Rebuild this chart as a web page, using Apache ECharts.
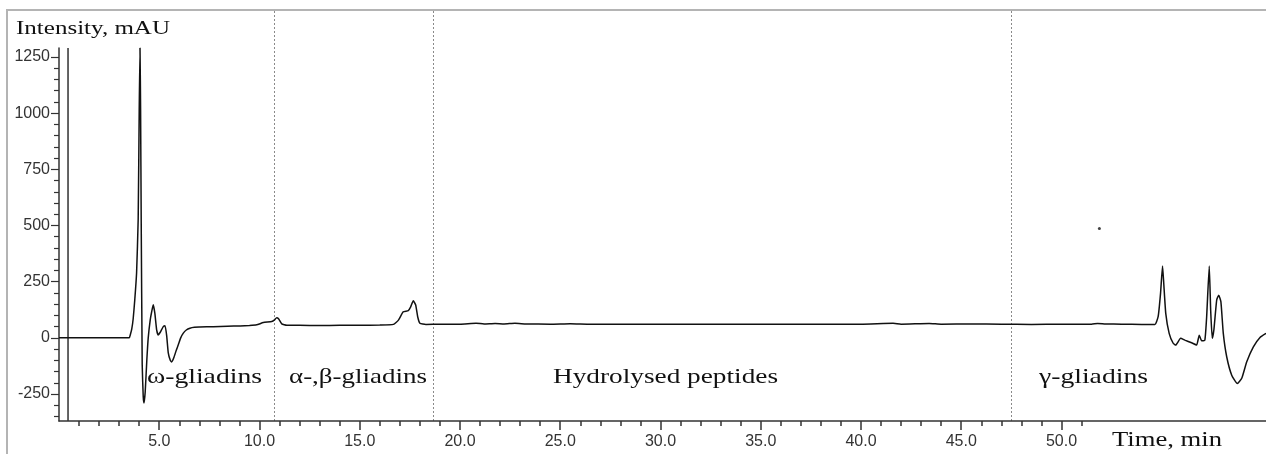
<!DOCTYPE html>
<html>
<head>
<meta charset="utf-8">
<script src="https://cdn.jsdelivr.net/npm/echarts@6/dist/echarts.min.js"></script>
<style>
html,body{margin:0;padding:0;background:#fff;}
#chart{width:1266px;height:454px;}
</style>
</head>
<body>
<div id="chart"></div>
<script>
// ---- data ----
const times = [
  0, 3.50, 3.56, 3.63, 3.70, 3.78, 3.87, 3.95, 4.00, 4.04, 4.07, 4.10, 4.15, 4.20, 4.24, 4.30, 4.38, 4.45,
  4.55, 4.62, 4.70, 4.78, 4.87, 4.95, 5.05, 5.20, 5.29, 5.37, 5.45, 5.55, 5.62, 5.72, 5.85, 5.95, 6.07,
  6.20, 6.35, 6.53, 6.75, 7.03, 7.70, 8.40, 9.03, 9.50, 9.86, 10.19, 10.61, 10.75, 10.86, 10.95, 11.11,
  11.36, 12.0, 13.0, 14.0, 15.0, 16.0, 16.68, 16.93, 17.17, 17.42, 17.54, 17.67, 17.79, 17.89, 18.00,
  18.30, 19.0, 20.0, 20.8, 21.2, 21.75, 22.2, 22.74, 23.3, 24.5, 25.5, 26.5, 28, 30, 32, 34, 36, 38, 40,
  41.6, 42, 43.4, 44, 45.5, 47, 48.5, 50, 51.5, 51.8, 52.2, 53, 54, 54.66,
  54.82, 54.94, 55.04, 55.10, 55.20, 55.37, 55.57, 55.70, 55.94, 56.15, 56.49, 56.74, 56.87, 56.99,
  57.15, 57.24, 57.37, 57.44, 57.52, 57.60, 57.74, 57.84, 57.95, 58.07, 58.24, 58.49, 58.77, 58.99,
  59.24, 59.57, 59.90, 60.2
];
const intensity = [
  0, 0, 15, 40, 85, 170, 290, 530, 1010, 1290, 1010, 520, -120, -260, -290, -240, -100, 0,
  80, 115, 147, 110, 36, 13, 25, 50, 54, 10, -67, -100, -107, -90, -55, -31, 0,
  21, 35, 43, 47, 48, 50, 52, 53, 55, 58, 68, 73, 80, 90, 85, 62,
  56, 56, 55, 56, 56, 57, 60, 79, 116, 121, 138, 165, 146, 94, 65,
  60, 61, 61, 65, 62, 64, 62, 65, 62, 61, 63, 61, 61, 61, 61, 61, 61, 61, 61,
  65, 61, 64, 61, 62, 61, 60, 61, 61, 64, 62, 61, 60, 60,
  94, 198, 320, 243, 109, 20, -24, -32, -2, -10, -22, -32, 12, -13,
  -10, 94, 320, 124, -2, 35, 168, 190, 161, 20, -84, -166, -203, -180,
  -106, -40, 2, 20
];
const strayPoint = [[51.89, 487]];
const markerTimes = [0.45];
const regionBounds = [10.72, 18.65, 47.48];
const regionNames = ['ω-gliadins', 'α-,β-gliadins', 'Hydrolysed peptides', 'γ-gliadins'];
const xMajorTicks = [5, 10, 15, 20, 25, 30, 35, 40, 45, 50];
const xMinorTicks = [1,2,3,4,6,7,8,9,11,12,13,14,16,17,18,19,21,22,23,24,26,27,28,29,31,32,33,34,36,37,38,39,41,42,43,44,46,47,48,49,51];
const yMajorTicks = [-250, 0, 250, 500, 750, 1000, 1250];
const yMinorTicks = [-350,-300,-200,-150,-100,-50,50,100,150,200,300,350,400,450,550,600,650,700,800,850,900,950,1050,1100,1150,1200];
const yTitle = 'Intensity, mAU';
const xTitle = 'Time, min';

// ---- chart ----
const chart = echarts.init(document.getElementById('chart'), null, {renderer: 'canvas'});
const X_MIN = 0, X_MAX = 60.2, Y_MIN = -370, Y_MAX = 1290;
const axisColor = '#333';
const sans = '"Liberation Sans", Arial, sans-serif';
const serif = '"Liberation Serif", "Times New Roman", serif';

chart.setOption({
  animation: false,
  backgroundColor: '#fff',
  grid: {left: 59, right: 0, top: 48, bottom: 33, containLabel: false},
  xAxis: [
    {
      type: 'value', min: X_MIN, max: X_MAX, position: 'bottom',
      axisLine: {show: true, onZero: false, lineStyle: {color: axisColor, width: 1.5}},
      axisTick: {show: true, length: 9, customValues: xMajorTicks, lineStyle: {color: axisColor, width: 1.5}},
      axisLabel: {show: true, customValues: xMajorTicks, margin: 13, color: '#333',
        fontFamily: sans, fontSize: 16, formatter: v => v.toFixed(1)},
      splitLine: {show: false}
    },
    {
      type: 'value', min: X_MIN, max: X_MAX, position: 'bottom', gridIndex: 0,
      axisLine: {show: false, onZero: false},
      axisTick: {show: true, length: 5, customValues: xMinorTicks, lineStyle: {color: axisColor, width: 1.5}},
      axisLabel: {show: false},
      splitLine: {show: false}
    }
  ],
  yAxis: [
    {
      type: 'value', min: Y_MIN, max: Y_MAX, position: 'left',
      axisLine: {show: true, onZero: false, lineStyle: {color: axisColor, width: 1.5}},
      axisTick: {show: true, length: 8, customValues: yMajorTicks, lineStyle: {color: axisColor, width: 1.2}},
      axisLabel: {show: true, customValues: yMajorTicks, margin: 9, color: '#333',
        fontFamily: sans, fontSize: 16, formatter: v => String(v)},
      splitLine: {show: false}
    },
    {
      type: 'value', min: Y_MIN, max: Y_MAX, position: 'left', gridIndex: 0,
      axisLine: {show: false, onZero: false},
      axisTick: {show: true, length: 5, customValues: yMinorTicks, lineStyle: {color: axisColor, width: 1.2}},
      axisLabel: {show: false},
      splitLine: {show: false}
    }
  ],
  series: [
    {
      type: 'line', xAxisIndex: 0, yAxisIndex: 0,
      data: times.map((t, i) => [t, intensity[i]]),
      showSymbol: false, symbol: 'none', smooth: 0.15,
      lineStyle: {color: '#111', width: 1.5},
      clip: true
    },
    {
      type: 'scatter', xAxisIndex: 0, yAxisIndex: 0,
      data: strayPoint, symbolSize: 3, itemStyle: {color: '#111'}
    }
  ]
});

// text helpers: text in the reference is horizontally stretched
const measureCtx = document.createElement('canvas').getContext('2d');
function stretchedText(text, font, left, cy, targetWidth) {
  measureCtx.font = font;
  const w = measureCtx.measureText(text).width;
  return {
    type: 'text', x: left, y: cy, scaleX: targetWidth / w, scaleY: 1, silent: true,
    style: {text: text, font: font, fill: '#111', textAlign: 'left', verticalAlign: 'middle'}
  };
}

const gridTop = chart.convertToPixel({yAxisIndex: 0}, Y_MAX);
const gridBottom = chart.convertToPixel({yAxisIndex: 0}, Y_MIN);
const graphics = [];
// outer frame
graphics.push({type: 'rect', silent: true, shape: {x: 7, y: 10, width: 1300, height: 500},
  style: {fill: 'none', stroke: '#b4b4b4', lineWidth: 2}});
// region separators (dotted)
regionBounds.forEach(t => {
  const px = Math.round(chart.convertToPixel({xAxisIndex: 0}, t)) + 0.5;
  graphics.push({type: 'line', silent: true, shape: {x1: px, y1: 11, x2: px, y2: gridBottom},
    style: {stroke: '#8a8a8a', lineWidth: 1, lineDash: [2, 2]}});
});
// injection marker line
markerTimes.forEach(t => {
  const px = chart.convertToPixel({xAxisIndex: 0}, t);
  graphics.push({type: 'line', silent: true, shape: {x1: px, y1: gridTop, x2: px, y2: gridBottom},
    style: {stroke: '#111', lineWidth: 1.3}});
});
// titles
graphics.push(stretchedText(yTitle, '19px ' + serif, 16, 29, 154));
graphics.push(stretchedText(xTitle, '21px ' + serif, 1112, 440, 110));
// region labels
const regionLayout = [[147, 115], [289, 138], [553, 225], [1039, 109]];
regionNames.forEach((name, i) => {
  graphics.push(stretchedText(name, '21px ' + serif, regionLayout[i][0], 377, regionLayout[i][1]));
});
chart.setOption({graphic: graphics});
</script>
</body>
</html>
